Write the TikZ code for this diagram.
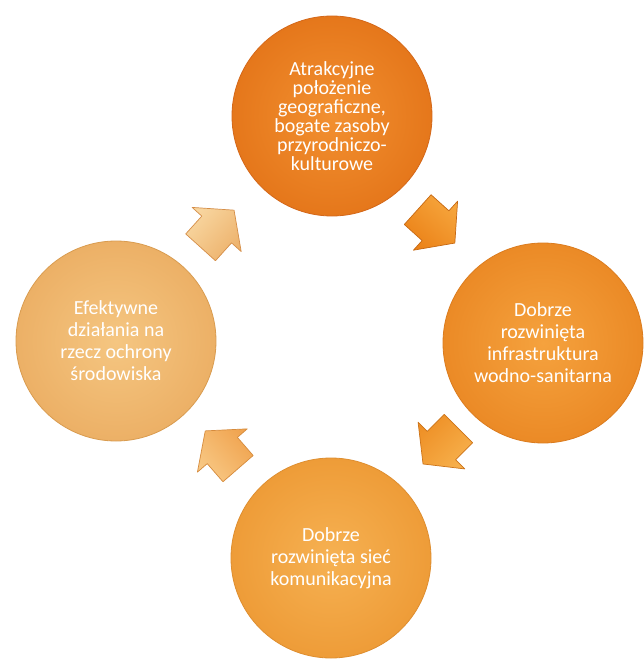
\documentclass[tikz,border=0pt]{standalone}
\usepackage{fontspec}
\setmainfont{Carlito}
\begin{document}
\begin{tikzpicture}[x=1pt,y=-1pt,
  circ/.style={circle, minimum size=200pt, inner sep=0pt, text=white, align=center,
     font=\fontsize{20}{22}\selectfont, line width=0.8pt},
  blockarrow/.pic={
     \path[pic actions] (-26,-20) -- (-2,-20) -- (-2,-33) -- (24,0) -- (-2,33) -- (-2,20) -- (-26,20) -- cycle;
  },
  arr/.style={line width=0.7pt, line join=round}
]
\useasboundingbox (0,0) rectangle (643,661);
\fill[white] (0,0) rectangle (643,661);

\definecolor{topIn}{HTML}{F29030}\definecolor{topOut}{HTML}{E5771B}\definecolor{topBd}{HTML}{D4681A}
\definecolor{rgtIn}{HTML}{F5A23E}\definecolor{rgtOut}{HTML}{EB8A26}\definecolor{rgtBd}{HTML}{DB7C1F}
\definecolor{botIn}{HTML}{F6B152}\definecolor{botOut}{HTML}{EE9C38}\definecolor{botBd}{HTML}{DE8E30}
\definecolor{lftIn}{HTML}{F5C681}\definecolor{lftOut}{HTML}{ECB066}\definecolor{lftBd}{HTML}{D99C50}
\definecolor{aOneA}{HTML}{F8D6A0}\definecolor{aOneB}{HTML}{EDB26C}\definecolor{aOneBd}{HTML}{D58E48}
\definecolor{aTwoA}{HTML}{F6A53C}\definecolor{aTwoB}{HTML}{EB8218}\definecolor{aTwoBd}{HTML}{C66812}
\definecolor{aThrA}{HTML}{F7B04C}\definecolor{aThrB}{HTML}{EE9026}\definecolor{aThrBd}{HTML}{CC7318}
\definecolor{aFouA}{HTML}{F8C884}\definecolor{aFouB}{HTML}{F0A450}\definecolor{aFouBd}{HTML}{D68B3C}

\node[circ, draw=topBd, inner color=topIn, outer color=topOut] (top) at (332,116)
  {\raisebox{6pt}{\parbox{150pt}{\centering\fontsize{20}{19}\selectfont Atrakcyjne\\położenie\\geograficzne,\\bogate zasoby\\przyrodniczo-\\kulturowe}}};
\node[circ, draw=rgtBd, inner color=rgtIn, outer color=rgtOut] (right) at (543,343)
  {Dobrze\\rozwinięta\\infrastruktura\\wodno-sanitarna};
\node[circ, draw=botBd, inner color=botIn, outer color=botOut] (bottom) at (331,558)
  {Dobrze\\rozwinięta sieć\\komunikacyjna};
\node[circ, draw=lftBd, inner color=lftIn, outer color=lftOut] (left) at (116,341)
  {Efektywne\\działania na\\rzecz ochrony\\środowiska};

% block arrows of the cycle
\pic[arr, draw=aOneBd, top color=aOneA, bottom color=aOneB, shading angle=48]
   (a1) at (218,228) [rotate=48] {blockarrow};
\pic[arr, draw=aTwoBd, top color=aTwoA, bottom color=aTwoB, shading angle=-42]
   (a2) at (437,227) [rotate=-42] {blockarrow};
\pic[arr, draw=aThrBd, top color=aThrA, bottom color=aThrB, shading angle=225]
   (a3) at (440,447) [rotate=225] {blockarrow};
\pic[arr, draw=aFouBd, top color=aFouA, bottom color=aFouB, shading angle=131]
   (a4) at (221,449) [rotate=131] {blockarrow};
\end{tikzpicture}
\end{document}
